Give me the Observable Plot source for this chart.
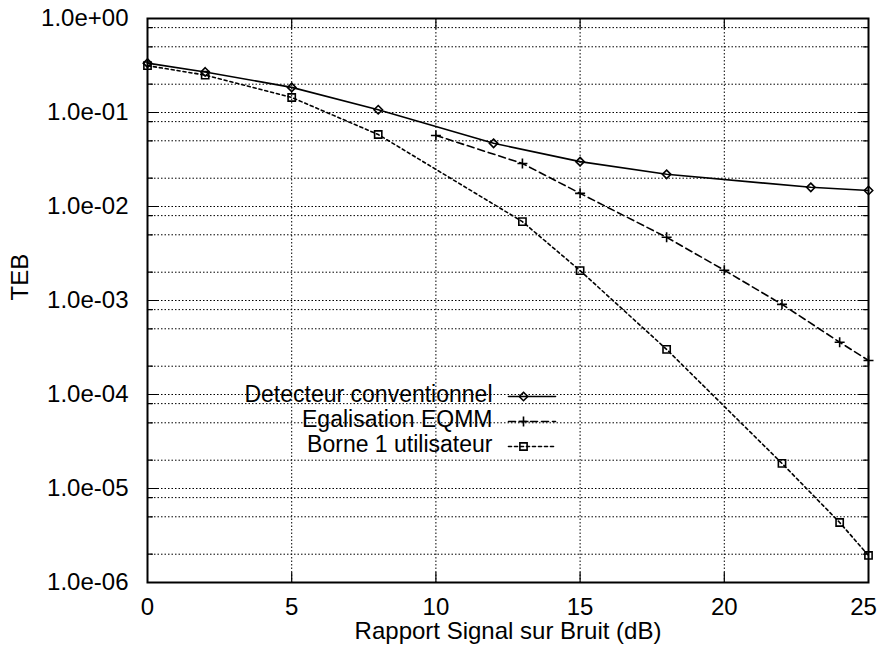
<!DOCTYPE html>
<html>
<head>
<meta charset="utf-8">
<script src="https://cdn.jsdelivr.net/npm/d3@7"></script>
<script src="https://cdn.jsdelivr.net/npm/@observablehq/plot@0.6"></script>
<style>
  html, body { margin: 0; padding: 0; background: #fff; }
</style>
</head>
<body>
<div id="chart"></div>
<script>
// ---- Data ----
const convX  = [0, 2, 5, 8, 12, 15, 18, 23, 25];
const convY  = [0.335, 0.27, 0.185, 0.107, 0.047, 0.030, 0.022, 0.016, 0.0148];
const eqmmX  = [10, 13, 15, 18, 20, 22, 24, 25];
const eqmmY  = [0.057, 0.0287, 0.0138, 0.0047, 0.0021, 0.00091, 0.00036, 0.00023];
const borneX = [0, 2, 5, 8, 13, 15, 18, 22, 24, 25];
const borneY = [0.315, 0.25, 0.1445, 0.0583, 0.0069, 0.00208, 0.000302, 1.85e-5, 4.35e-6, 1.94e-6];

const seriesNames = ["Detecteur conventionnel", "Egalisation EQMM", "Borne 1 utilisateur"];
const xTicks = [0, 5, 10, 15, 20, 25];
const xTickLabels = ["0", "5", "10", "15", "20", "25"];
const xGrid = [5, 10, 15, 20];
const yTicks = [1, 1e-1, 1e-2, 1e-3, 1e-4, 1e-5, 1e-6];
const yTickLabels = ["1.0e+00", "1.0e-01", "1.0e-02", "1.0e-03", "1.0e-04", "1.0e-05", "1.0e-06"];
const yGridMultipliers = [1, 2, 5, 8];
const xTitle = "Rapport Signal sur Bruit (dB)";
const yTitle = "TEB";

// ---- Derived tables ----
const conv  = convX.map((x, i) => ({x, y: convY[i]}));
const eqmm  = eqmmX.map((x, i) => ({x, y: eqmmY[i]}));
const borne = borneX.map((x, i) => ({x, y: borneY[i]}));
const yGrid = [];
for (const d of yTicks) for (const m of yGridMultipliers) {
  const v = d * m;
  if (v <= 1 && v >= 1e-6) yGrid.push(v);
}
const yMinor = yGrid.filter(v => !yTicks.includes(v));
const xDomain = [0, 25];
const yDomain = [1e-6, 1];

// ---- Styles ----
const FONT = "'Liberation Sans', Arial, Helvetica, sans-serif";
const plusSymbol = {draw(context, size) {
  const r = Math.sqrt(size / Math.PI);
  context.moveTo(-r, 0); context.lineTo(r, 0);
  context.moveTo(0, -r); context.lineTo(0, r);
}};
const styles = [
  {symbol: "diamond2", r: 3.8, dash: null},
  {symbol: plusSymbol, r: 5, dash: "7,4"},
  {symbol: "square2", r: 4.6, dash: "3,3"}
];
const tickShape = {draw(context, l) { context.moveTo(0, 0); context.lineTo(0, -l); }};
const gridStyle = {stroke: "black", strokeOpacity: 1, strokeWidth: 1, strokeDasharray: "1.5,2"};
const tickStyle = {anchor: "start", shape: tickShape, stroke: "black", strokeWidth: 1.2};

const seriesData = [conv, eqmm, borne];

const marks = [
  Plot.gridY(yGrid, gridStyle),
  Plot.gridX(xGrid, gridStyle),
  // inward tick marks
  Plot.vector(yMinor, {x: () => xDomain[0], y: d => d, rotate: 90, length: 5, ...tickStyle}),
  Plot.vector(yTicks, {x: () => xDomain[0], y: d => d, rotate: 90, length: 10, ...tickStyle}),
  Plot.vector(yMinor, {x: () => xDomain[1], y: d => d, rotate: -90, length: 5, ...tickStyle}),
  Plot.vector(yTicks, {x: () => xDomain[1], y: d => d, rotate: -90, length: 10, ...tickStyle}),
  Plot.vector(xGrid, {x: d => d, y: () => yDomain[0], rotate: 0, length: 10, ...tickStyle}),
  Plot.vector(xGrid, {x: d => d, y: () => yDomain[1], rotate: 180, length: 10, ...tickStyle}),
  Plot.frame({stroke: "black", strokeWidth: 2}),
  // axes labels
  Plot.axisY(yTicks, {anchor: "left", tickSize: 0, tickPadding: 19, fontSize: 24, fontFamily: FONT,
    tickFormat: d => yTickLabels[yTicks.indexOf(d)], label: null}),
  Plot.axisX(xTicks.slice(0, -1), {anchor: "bottom", tickSize: 0, tickPadding: 15, fontSize: 24, fontFamily: FONT,
    tickFormat: d => xTickLabels[xTicks.indexOf(d)], label: null}),
  Plot.axisX(xTicks.slice(-1), {anchor: "bottom", tickSize: 0, tickPadding: 15, dx: -5, fontSize: 24, fontFamily: FONT,
    tickFormat: d => xTickLabels[xTicks.indexOf(d)], label: null}),
  Plot.text([xTitle], {frameAnchor: "bottom", dy: 49, text: d => d, fontSize: 24, fontFamily: FONT, lineAnchor: "middle", fill: "black"}),
  Plot.text([yTitle], {frameAnchor: "left", dx: -127, rotate: -90, text: d => d, fontSize: 24, fontFamily: FONT, lineAnchor: "middle", fill: "black"})
];

seriesData.forEach((data, i) => {
  const s = styles[i];
  marks.push(Plot.line(data, {x: "x", y: "y", stroke: "black", strokeWidth: 1.6, strokeDasharray: s.dash}));
  marks.push(Plot.dot(data, {x: "x", y: "y", symbol: s.symbol, r: s.r, stroke: "black", strokeWidth: 1.6, fill: "none"}));
  // legend row
  const rowDy = 376 + i * 25;
  marks.push(Plot.text([seriesNames[i]], {frameAnchor: "top-left", dx: 345, dy: rowDy, text: d => d,
    textAnchor: "end", lineAnchor: "middle", fontSize: 23, fontFamily: FONT, fill: "black"}));
  marks.push(Plot.vector([seriesNames[i]], {frameAnchor: "top-left", dx: 361, dy: rowDy + 2, rotate: 90, length: 47,
    anchor: "start", shape: tickShape, stroke: "black", strokeWidth: 1.6, strokeDasharray: s.dash}));
  marks.push(Plot.dot([seriesNames[i]], {frameAnchor: "top-left", dx: 376, dy: rowDy + 2, symbol: s.symbol, r: s.r,
    stroke: "black", strokeWidth: 1.6, fill: "none"}));
});

const chart = Plot.plot({
  width: 880,
  height: 652,
  marginLeft: 147,
  marginRight: 12,
  marginTop: 18,
  marginBottom: 70,
  style: {fontFamily: FONT, fontSize: "24px", background: "white", color: "black"},
  x: {domain: xDomain},
  y: {type: "log", domain: yDomain},
  marks
});
document.getElementById("chart").appendChild(chart);
</script>
</body>
</html>
